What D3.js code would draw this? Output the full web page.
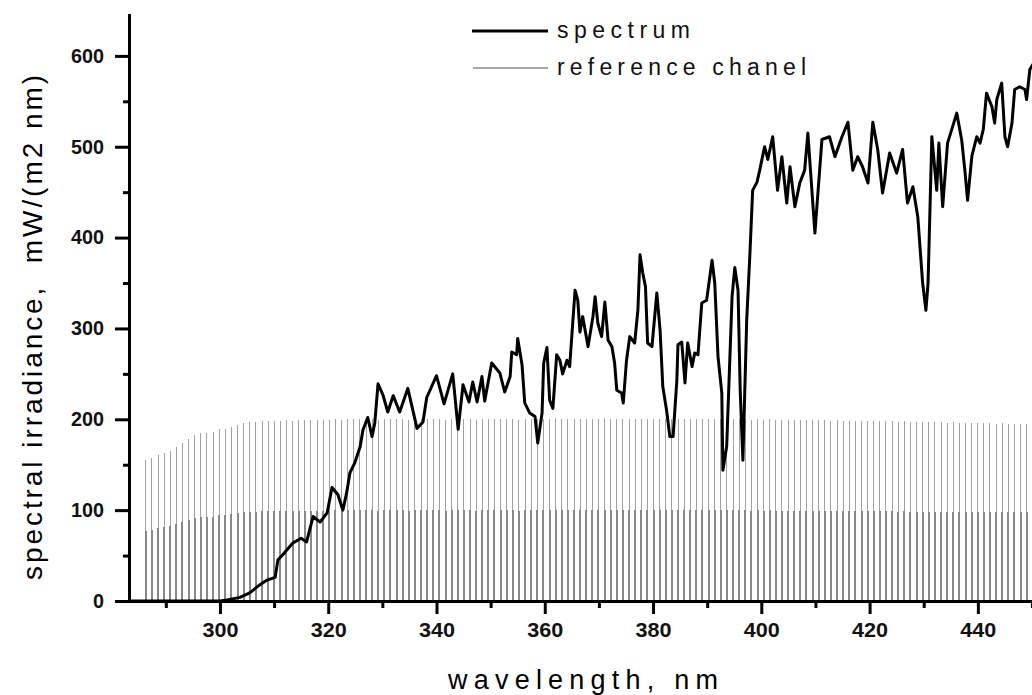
<!DOCTYPE html>
<html>
<head>
<meta charset="utf-8">
<script src="https://cdn.jsdelivr.net/npm/d3@7"></script>
<style>
  body { margin: 0; background: #fff; }
  svg { display: block; }
  .tick text { font-family: "Liberation Sans", Arial, sans-serif; font-weight: bold; font-size: 20px; fill: #111; }
</style>
</head>
<body>
<div id="my_dataviz"></div>
<script>

// spectrum (wavelength nm / mW/(m2 nm))
var specWl = [283.3, 290, 296, 300, 301.3, 303.7, 305.5, 307.4, 308.7, 310.2,
  310.7, 311.6, 313.5, 315.0, 316.0, 317.2, 318.5, 319.8, 320.7, 321.8,
  322.7, 323.4, 324.0, 324.9, 325.9, 326.4, 327.3, 328.1, 328.6, 329.2,
  330.1, 331.0, 332.0, 333.2, 334.7, 336.4, 337.5, 338.2, 340.0, 341.4,
  343.0, 344.0, 344.9, 346.0, 346.7, 347.5, 348.4, 348.9, 350.2, 351.7,
  352.6, 353.6, 353.9, 354.8, 355.0, 355.8, 356.3, 357.2, 358.2, 358.7,
  359.5, 359.8, 360.4, 360.9, 361.5, 362.2, 362.8, 363.3, 364.1, 364.6,
  365.2, 365.6, 366.1, 366.5, 367.0, 368.0, 368.9, 369.3, 369.8, 370.5,
  371.1, 371.7, 372.4, 372.9, 373.3, 374.2, 374.5, 375.1, 375.7, 376.6,
  377.2, 377.6, 378.1, 378.6, 379.0, 379.8, 380.7, 381.3, 381.8, 382.5,
  383.1, 383.7, 384.4, 384.6, 385.3, 385.9, 386.4, 387.2, 387.7, 388.3,
  389.0, 389.9, 390.9, 391.4, 392.0, 392.7, 392.9, 393.6, 394.2, 394.6,
  395.1, 395.7, 396.1, 396.4, 396.6, 397.3, 397.9, 398.4, 399.2, 399.7,
  400.6, 401.2, 402.1, 403.0, 403.8, 404.7, 405.3, 406.2, 407.1, 408.0,
  408.6, 409.9, 411.2, 412.6, 413.6, 414.9, 416.0, 416.9, 417.8, 418.7,
  419.7, 420.6, 421.5, 422.4, 423.7, 425.0, 426.1, 427.0, 428.0, 428.9,
  429.8, 430.4, 430.8, 431.5, 432.4, 432.8, 433.5, 434.4, 436.1, 437.0,
  437.6, 438.1, 438.9, 439.8, 440.4, 441.0, 441.6, 442.6, 443.1, 443.5,
  444.4, 445.0, 445.5, 446.3, 446.8, 447.7, 448.7, 449.0, 449.6, 450.3]
var specVal = [0, 0, 0, 0, 1, 4, 9, 18, 23, 26,
  45, 51, 64, 69, 65, 93, 87, 97, 125, 117,
  100, 119, 141, 152, 170, 188, 202, 181, 196, 239,
  227, 208, 226, 208, 234, 190, 197, 224, 248, 217,
  250, 189, 238, 219, 241, 219, 247, 220, 262, 251,
  230, 247, 274, 271, 289, 260, 218, 207, 203, 174,
  207, 262, 279, 221, 212, 271, 265, 250, 265, 258,
  309, 342, 331, 296, 313, 280, 313, 335, 306, 291,
  329, 287, 280, 262, 232, 229, 218, 265, 291, 284,
  320, 381, 361, 346, 284, 280, 339, 298, 236, 210,
  181, 181, 243, 282, 285, 240, 284, 258, 273, 271,
  328, 331, 375, 350, 269, 229, 144, 170, 269, 335,
  367, 342, 232, 185, 155, 309, 383, 452, 461, 474,
  500, 486, 511, 452, 489, 438, 478, 434, 460, 474,
  515, 405, 508, 511, 489, 511, 527, 474, 489, 478,
  460, 527, 497, 449, 493, 471, 497, 438, 456, 423,
  350, 320, 350, 511, 452, 504, 434, 504, 537, 508,
  474, 441, 490, 511, 504, 519, 559, 544, 526, 552,
  570, 511, 500, 526, 563, 566, 563, 552, 585, 592]

// reference chanel: one drop line per sample, first at refStart, then every refStep nm
var refStart = 286.3
var refStep = 1.13
var refVal = [155, 157, 161, 163, 165, 170, 174, 178, 183, 185, 185, 186, 189, 189, 191, 194, 196,
  197, 197, 198, 198, 198, 198, 199, 198, 199, 199, 199, 199, 199, 199, 200, 199, 200, 200, 200,
  200, 200, 199, 200, 200, 200, 200, 199, 200, 200, 200, 200, 200, 199, 200, 200, 200, 200, 199, 200,
  200, 200, 200, 200, 200, 199, 200, 200, 200, 200, 200, 201, 200, 200, 200, 200, 200, 200, 200, 201,
  200, 200, 200, 200, 200, 200, 200, 200, 200, 200, 200, 200, 200, 200, 200, 200, 200, 200, 200, 200,
  200, 200, 200, 199, 200, 199, 200, 199, 199, 199,
  199, 199, 199, 199, 199, 199, 198, 199, 198, 198, 198, 198, 198, 198, 198, 198, 198, 197, 198, 197,
  197, 197, 197, 197, 197, 196, 197, 196, 196, 196, 196, 196, 196, 195, 196, 195, 195, 195, 195]

// axis ticks
var xMajorTicks = [300, 320, 340, 360, 380, 400, 420, 440]
var xMinorTicks = [290, 310, 330, 350, 370, 390, 410, 430, 450]
var yMajorTicks = [0, 100, 200, 300, 400, 500, 600]
var yMinorTicks = [50, 150, 250, 350, 450, 550]

var legendLabels = ["spectrum", "reference chanel"]

// set the dimensions of the graph
let width = 1032
    height = 695

var x = d3.scaleLinear().domain([283.2, 450]).range([129, 1032])
var y = d3.scaleLinear().domain([0, 645]).range([601, 15])

var svg = d3.select("#my_dataviz")
  .append("svg")
    .attr("width", width)
    .attr("height", height)

svg.append("rect").attr("width", width).attr("height", height).attr("fill", "#fff")

// reference chanel drop lines (thin full height + heavier lower half)
var refData = refVal.map(function(v, i) { return {wl: refStart + i * refStep, v: v} })

svg.append("g")
  .attr("shape-rendering", "crispEdges")
  .selectAll("line")
  .data(refData)
  .enter()
  .append("line")
    .attr("x1", function(d) { return x(d.wl) })
    .attr("x2", function(d) { return x(d.wl) })
    .attr("y1", y(0))
    .attr("y2", function(d) { return y(d.v) })
    .attr("stroke", "#a0a0a0")
    .attr("stroke-width", 1)

svg.append("g")
  .attr("shape-rendering", "crispEdges")
  .selectAll("line")
  .data(refData)
  .enter()
  .append("line")
    .attr("x1", function(d) { return x(d.wl) })
    .attr("x2", function(d) { return x(d.wl) })
    .attr("y1", y(0))
    .attr("y2", function(d) { return y(d.v / 2) })
    .attr("stroke", "#888888")
    .attr("stroke-width", 2)

// spectrum line
var spec = specWl.map(function(w, i) { return [w, specVal[i]] })

svg.append("path")
  .datum(spec)
  .attr("fill", "none")
  .attr("stroke", "#000")
  .attr("stroke-width", 3)
  .attr("stroke-linejoin", "round")
  .attr("d", d3.line()
    .x(function(d) { return x(d[0]) })
    .y(function(d) { return y(d[1]) })
  )

// axes
function styleAxis(g) {
  g.select(".domain").attr("stroke", "#000").attr("stroke-width", 3).attr("stroke-linecap", "square")
  g.selectAll(".tick line").attr("stroke", "#000").attr("stroke-width", 3)
}

svg.append("g")
  .attr("transform", "translate(0," + y(0) + ")")
  .call(d3.axisBottom(x).tickValues(xMinorTicks).tickSize(7).tickSizeOuter(0).tickFormat(""))
  .call(styleAxis)

var xAxis = svg.append("g")
  .attr("transform", "translate(0," + y(0) + ")")
  .call(d3.axisBottom(x).tickValues(xMajorTicks).tickSize(13).tickPadding(9).tickSizeOuter(0).tickFormat(d3.format("d")))
  .call(styleAxis)

svg.append("g")
  .attr("transform", "translate(" + x(283.2) + ",0)")
  .call(d3.axisLeft(y).tickValues(yMinorTicks).tickSize(6).tickSizeOuter(0).tickFormat(""))
  .call(styleAxis)

var yAxis = svg.append("g")
  .attr("transform", "translate(" + x(283.2) + ",0)")
  .call(d3.axisLeft(y).tickValues(yMajorTicks).tickSize(14).tickPadding(11).tickSizeOuter(0).tickFormat(d3.format("d")))
  .call(styleAxis)

// condensed bold tick labels
xAxis.selectAll(".tick text")
  .attr("textLength", 36)
  .attr("lengthAdjust", "spacingAndGlyphs")
yAxis.selectAll(".tick text")
  .attr("textLength", function(d) { return String(d).length * 11 })
  .attr("lengthAdjust", "spacingAndGlyphs")
svg.selectAll(".tick text").attr("font-family", null).attr("font-size", null)

// axis titles
svg.append("text")
  .attr("x", 448)
  .attr("y", 689)
  .attr("textLength", 270)
  .attr("lengthAdjust", "spacing")
  .style("font-family", "'Liberation Sans', Arial, sans-serif")
  .style("font-size", "27px")
  .text("wavelength, nm")

svg.append("text")
  .attr("transform", "translate(42,580) rotate(-90)")
  .attr("textLength", 505)
  .attr("lengthAdjust", "spacing")
  .style("font-family", "'Liberation Sans', Arial, sans-serif")
  .style("font-size", "28px")
  .style("white-space", "pre")
  .text("spectral irradiance,  mW/(m2 nm)")

// legend
var legendY = [31, 68]
var legendLen = [133, 249]

svg.append("line")
  .attr("x1", 472).attr("x2", 548)
  .attr("y1", legendY[0]).attr("y2", legendY[0])
  .attr("stroke", "#000").attr("stroke-width", 3)

svg.append("line")
  .attr("x1", 473).attr("x2", 548)
  .attr("y1", legendY[1]).attr("y2", legendY[1])
  .attr("stroke", "#8a8a8a").attr("stroke-width", 1.5)

svg.selectAll(".legend")
  .data(legendLabels)
  .enter()
  .append("text")
    .attr("class", "legend")
    .attr("x", 557)
    .attr("y", function(d, i) { return legendY[i] + 7 })
    .attr("textLength", function(d, i) { return legendLen[i] })
    .attr("lengthAdjust", "spacing")
    .style("font-family", "'Liberation Sans', Arial, sans-serif")
    .style("font-size", "23px")
    .style("fill", "#111")
    .text(function(d) { return d })

</script>
</body>
</html>
